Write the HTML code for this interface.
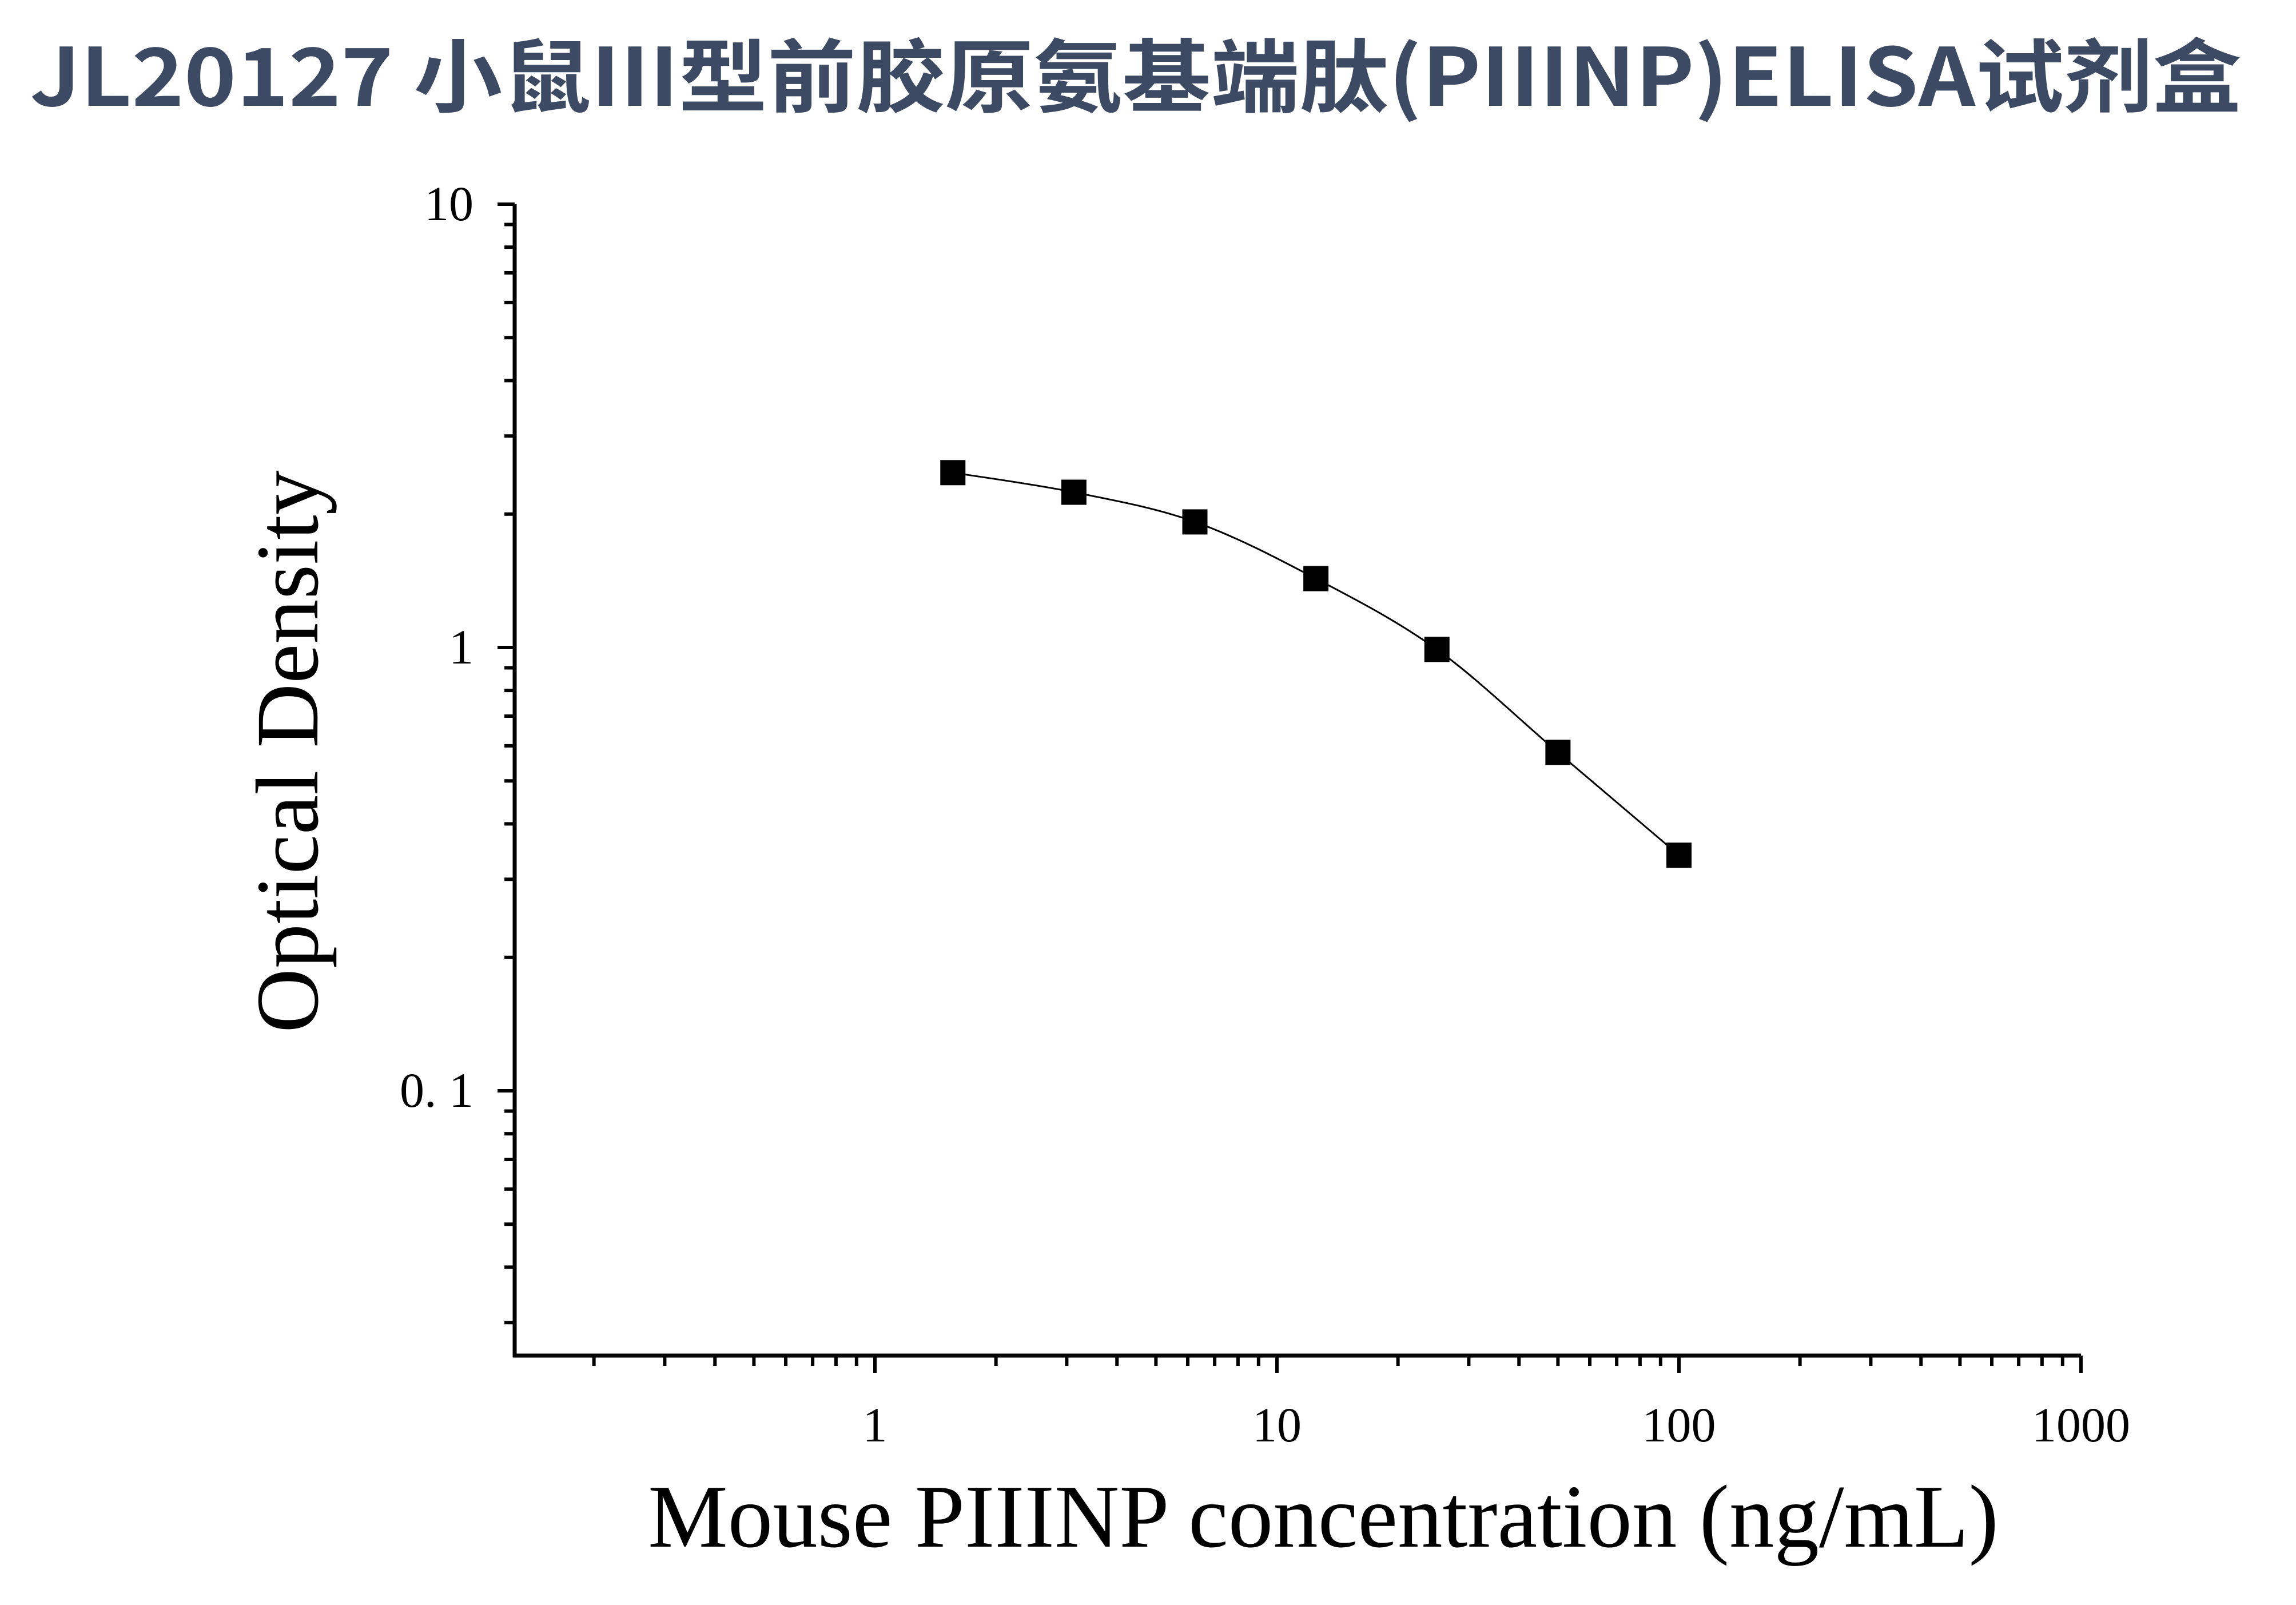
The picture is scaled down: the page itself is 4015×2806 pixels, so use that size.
<!DOCTYPE html>
<html><head><meta charset="utf-8"><style>
html,body{margin:0;padding:0;background:#fff;}
svg{display:block;}
</style></head><body>
<svg id="chart" width="4015" height="2806" viewBox="0 0 4015 2806" xmlns="http://www.w3.org/2000/svg">
<text x="1986" y="185" text-anchor="middle" font-family="'Noto Sans CJK SC','Liberation Sans',sans-serif" font-weight="bold" font-size="140" fill="#3d4a63" textLength="3867" lengthAdjust="spacingAndGlyphs">JL20127 小鼠III型前胶原氨基端肽(PIIINP)ELISA试剂盒</text>
<g id="axes"></g>
<g id="plot"></g>
<text x="2314" y="2704" text-anchor="middle" font-family="'Liberation Serif',serif" font-size="157" fill="#000">Mouse PIIINP concentration (ng/mL)</text>
<text transform="translate(555,1314) rotate(-90)" text-anchor="middle" font-family="'Liberation Serif',serif" font-size="156" fill="#000">Optical Density</text>
</svg>
<script>
const concentrations = [1.5625, 3.125, 6.25, 12.5, 25, 50, 100];
const odValues = [2.48, 2.24, 1.92, 1.43, 0.99, 0.58, 0.34];
const xTickValues = [1, 10, 100, 1000];
const xTickLabels = ["1", "10", "100", "1000"];
const yTickValues = [0.1, 1, 10];
const yTickLabels = ["0. 1", "1", "10"];

const NS = "http://www.w3.org/2000/svg";
const X0 = 900, X1 = 3639, Y0 = 2370, XP1 = 1530;
const xMinLog = Math.log10(0.126), xMaxLog = 3;
const yMinLog = -1.597, yTopLog = 1;
const yPx1 = 1132, yDec = 775;
function xs(v){ return XP1 + (Math.log10(v)) * (X1 - XP1) / 3; }
function ys(v){ return yPx1 - Math.log10(v) * yDec; }
function mk(tag, attrs, parent){
  const e = document.createElementNS(NS, tag);
  for (const k in attrs) e.setAttribute(k, attrs[k]);
  parent.appendChild(e); return e;
}
const axes = document.getElementById('axes');
const plot = document.getElementById('plot');
const yTopPx = ys(10);

const yAxis = mk('line', {x1:X0, y1:yTopPx, x2:X0, y2:Y0+3, stroke:'#000','stroke-width':7}, axes);


const xAxis = mk('line', {x1:X0-3, y1:Y0, x2:X1, y2:Y0, stroke:'#000','stroke-width':7}, axes);



for (let d = -2; d <= 1; d++) {
  for (let m = 1; m <= 9; m++) {
    const v = m * Math.pow(10, d);
    if (Math.log10(v) < yMinLog - 1e-9 || Math.log10(v) > yTopLog + 1e-9) continue;
    const y = ys(v);
    const len = m === 1 ? 30 : 18;
    const t = mk('line', {x1:X0-len, y1:y, x2:X0, y2:y, stroke:'#000','stroke-width':6}, axes);
    
    
  }
}
yTickValues.forEach((v, i) => {
  const t = mk('text', {x:X0-72, y:ys(v)+28, 'text-anchor':'end','font-family':"'Liberation Serif',serif",'font-size':86, fill:'#000'}, axes);
  t.textContent = yTickLabels[i];
  
  
});
for (let d = -1; d <= 3; d++) {
  for (let m = 1; m <= 9; m++) {
    const v = m * Math.pow(10, d);
    const lv = Math.log10(v);
    if (lv < xMinLog || lv > xMaxLog + 1e-9) continue;
    const x = xs(v);
    const len = m === 1 ? 30 : 18;
    const t = mk('line', {x1:x, y1:Y0, x2:x, y2:Y0+len, stroke:'#000','stroke-width':6}, axes);
    
    
    if (d === 3) break;
  }
}
xTickValues.forEach((v, i) => {
  const t = mk('text', {x:xs(v), y:Y0+150, 'text-anchor':'middle','font-family':"'Liberation Serif',serif",'font-size':86, fill:'#000'}, axes);
  t.textContent = xTickLabels[i];
  
  
});

const pts = concentrations.map((c, i) => [xs(c), ys(odValues[i])]);
let d = `M${pts[0][0]},${pts[0][1]}`;
for (let i = 0; i < pts.length - 1; i++) {
  const p0 = pts[Math.max(0, i-1)], p1 = pts[i], p2 = pts[i+1], p3 = pts[Math.min(pts.length-1, i+2)];
  const c1 = [p1[0] + (p2[0]-p0[0])/6, p1[1] + (p2[1]-p0[1])/6];
  const c2 = [p2[0] - (p3[0]-p1[0])/6, p2[1] - (p3[1]-p1[1])/6];
  d += ` C${c1[0]},${c1[1]} ${c2[0]},${c2[1]} ${p2[0]},${p2[1]}`;
}
const curve = mk('path', {d:d, fill:'none', stroke:'#000','stroke-width':3}, plot);



pts.forEach((p) => {
  const s = 44;
  const r = mk('rect', {x:p[0]-s/2, y:p[1]-s/2, width:s, height:s, fill:'#000'}, plot);
  
  
});
</script>
</body></html>
